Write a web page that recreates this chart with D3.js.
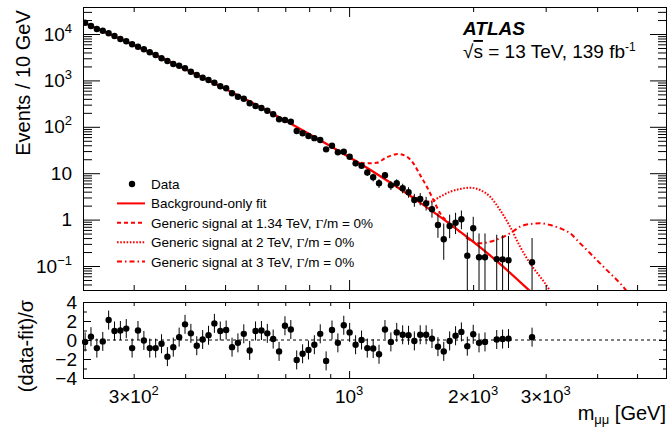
<!DOCTYPE html>
<html>
<head>
<meta charset="utf-8">
<script src="https://cdn.jsdelivr.net/npm/d3@7"></script>
<style>
  body { margin: 0; background: #fff; }
  svg text { font-family: "Liberation Sans", Arial, Helvetica, sans-serif; fill: #000; }
</style>
</head>
<body>
<svg id="chart" width="669" height="429"></svg>
<script>
// bin centres in GeV (empty bins left out)
const binMass = [228.7, 236.3, 244.2, 252.4, 260.8, 269.5, 278.5, 287.8, 297.4, 307.3,
  317.6, 328.2, 339.2, 350.5, 362.2, 374.3, 386.8, 399.7, 413.0, 426.8,
  441.1, 455.8, 471.0, 486.8, 503.0, 519.8, 537.2, 555.1, 573.7, 592.8,
  612.6, 633.1, 654.2, 676.1, 698.7, 722.0, 746.1, 771.1, 796.8, 823.5,
  851.0, 879.4, 908.8, 939.1, 970.6, 1003, 1037, 1072, 1107, 1144,
  1182, 1222, 1263, 1305, 1349, 1394, 1440, 1488, 1538, 1589,
  1643, 1697, 1754, 1813, 1873, 1936, 2001, 2067, 2137, 2282,
  2358, 2437, 2780];
// events / 10 GeV
const dataVal = [17520, 14870, 12820, 11780, 10350, 9055, 7803, 6962, 5998, 5324,
  4681, 4033, 3527, 2994, 2619, 2256, 2074, 1823, 1540, 1307,
  1144, 1020, 892, 746, 676, 527, 445, 403, 321, 281,
  254, 222, 186, 145, 140, 129, 81.2, 72.4, 63.4, 57,
  52.0, 32.7, 39.2, 28.2, 29.1, 22.7, 16.3, 14.5, 10.4, 8.16,
  6.06, 9.01, 5.48, 6.06, 4.73, 3.88, 2.64, 2.78, 2.24, 1.67,
  0.765, 0.376, 0.727, 0.857, 1.02, 0.167, 0.649, 0.154, 0.154, 0.141,
  0.139, 0.133, 0.121];
const errLo = [0, 0, 0, 0, 0, 0, 0, 0, 0, 0,
  0, 0, 0, 0, 0, 0, 0, 0, 0, 0,
  0, 0, 0, 0, 0, 0, 0, 0, 0, 0,
  0, 0, 0, 0, 0, 0, 0, 0, 0, 0,
  0, 0, 0, 0, 0, 2.6, 2.2, 2.0, 1.7, 1.5,
  1.25, 1.5, 1.15, 1.19, 1.04, 0.92, 0.75, 0.75, 0.67, 0.57,
  0.36, 0.24, 0.33, 0.37, 0.4, 0.16, 0.3, 0.15, 0.15, 0.14,
  0.135, 0.13, 0.12];
const errHi = [0, 0, 0, 0, 0, 0, 0, 0, 0, 0,
  0, 0, 0, 0, 0, 0, 0, 0, 0, 0,
  0, 0, 0, 0, 0, 0, 0, 0, 0, 0,
  0, 0, 0, 0, 0, 0, 0, 0, 0, 0,
  0, 0, 0, 0, 0, 2.6, 2.3, 2.1, 1.8, 1.6,
  1.4, 1.6, 1.3, 1.35, 1.2, 1.1, 0.95, 0.95, 0.85, 0.75,
  0.6, 0.45, 0.55, 0.55, 0.55, 0.36, 0.5, 0.35, 0.35, 0.33,
  0.32, 0.31, 0.28];
// (data-fit)/sigma
const pullVal = [-0.2, 0.35, -0.85, -0.15, 2.1, 0.95, 1.0, 1.2, -0.85, 1.0,
  -0.05, -0.85, -0.85, -0.4, -1.75, -0.75, 0.3, 1.65, 0.7, -0.6,
  0.05, 0.5, 1.75, 0.95, 1.05, -0.75, -0.3, 0.65, -1.1, 0.95,
  1.0, 0.7, 0.1, -1.2, 1.5, 1.1, -2.1, -1.45, -1.05, -0.5,
  0.65, -2.2, 1.05, -0.3, 1.55, 0.8, -0.5, 0.0, -0.85, -0.9,
  -1.5, 1.1, -0.2, 0.8, 0.55, 0.5, -0.1, 0.55, 0.55, 0.15,
  -0.7, -1.2, -0.1, 0.45, 0.85, -0.65, 0.6, -0.3, -0.2, 0.05,
  0.1, 0.15, 0.3];

// background-only fit
const fitMass = [226.1, 281.8, 354.8, 446.7, 562.3, 707.9, 891.3, 1122, 1413, 1778, 2239, 2818];
const fitVal = [17870, 7480, 2911, 1086, 385.5, 129.1, 40.4, 12.0, 3.16, 0.741, 0.148, 0.0234];

// signal + background curves
const sig134Mass = [899.4, 977.9, 1044, 1104, 1167, 1234, 1317, 1380, 1432, 1487, 1544, 1602, 1663, 1727, 1791, 1859];
const sig134Val = [38.6, 24.8, 17.8, 16.35, 16.8, 22.0, 25.9, 22.7, 16.35, 9.15, 5.12, 2.65, 1.37, 0.93, 0.705, 0.542];
const sig2Mass = [1380, 1432, 1502, 1573, 1663, 1759, 1859, 1966, 2080, 2199, 2325, 2459, 2600, 2750, 2908, 3046, 3110];
const sig2Val = [3.61, 3.12, 2.65, 2.43, 3.12, 3.99, 4.57, 4.87, 4.34, 3.12, 1.61, 0.703, 0.261, 0.114, 0.0588, 0.033, 0.0237];
const sig3Mass = [1923, 2080, 2199, 2325, 2459, 2600, 2750, 2908, 3075, 3252, 3439, 3637, 3846, 4066, 4300, 4548, 4756];
const sig3Val = [0.411, 0.308, 0.334, 0.395, 0.507, 0.703, 0.804, 0.832, 0.765, 0.65, 0.507, 0.308, 0.188, 0.114, 0.0696, 0.0424, 0.0262];

const xMinorTicks = [300, 400, 500, 600, 700, 800, 900, 2000, 3000, 4000, 5000];
const xMajorTicks = [1000];
const xLabelVals = [300, 1000, 2000, 3000];
const xLabelBase = ["3×10", "10", "2×10", "3×10"];
const xLabelExp = ["2", "3", "3", "3"];
const yLabelVals = [0.1, 1, 10, 100, 1000, 10000];
const yLabelBase = ["10", "1", "10", "10", "10", "10"];
const yLabelExp = ["−1", "", "", "2", "3", "4"];
const pullMajor = [-4, -2, 0, 2, 4];
const pullMinor = [-3, -1, 1, 3];
const pullLabels = ["−4", "−2", "0", "2", "4"];

const legendNames = ["Data", "Background-only fit", "Generic signal at 1.34 TeV, ", "Generic signal at 2 TeV, ", "Generic signal at 3 TeV, "];
const legendKind = ["dot", "solid", "dash", "dotted", "dashdot"];

const dashes = { solid: null, dash: "4,3", dotted: "1.6,1.6", dashdot: "5,3,1.5,3" };

const svg = d3.select("#chart");
const L = 83, R = 667, T1 = 7, B1 = 290, T2 = 302, B2 = 378;

const x = d3.scaleLog().domain([226, 5910]).range([L, R]);
const yTop = d3.scaleLog().domain([0.0304, 38200]).range([B1, T1]);
const yPull = d3.scaleLinear().domain([-4, 4]).range([B2, T2]);

svg.append("defs").append("clipPath").attr("id", "clipTop")
  .append("rect").attr("x", L).attr("y", T1).attr("width", R - L).attr("height", B1 - T1);

function tickAxis(axisFn, scale, vals, size, tr) {
  svg.append("g").attr("transform", tr)
    .call(axisFn(scale).tickValues(vals).tickSizeInner(size).tickSizeOuter(0).tickFormat(""))
    .call(g => g.select(".domain").remove())
    .selectAll("line").attr("stroke", "#000").attr("stroke-width", 1);
}

// ----- top panel -----
const topPlot = svg.append("g").attr("clip-path", "url(#clipTop)");

const line = d3.line().x(d => x(d[0])).y(d => yTop(d[1])).curve(d3.curveMonotoneX);

const sigCurves = [
  [sig134Mass, sig134Val, "dash"],
  [sig2Mass, sig2Val, "dotted"],
  [sig3Mass, sig3Val, "dashdot"]
];
sigCurves.forEach(c => {
  topPlot.append("path")
    .datum(c[0].map((m, i) => [m, c[1][i]]))
    .attr("d", line)
    .attr("fill", "none")
    .attr("stroke", "#ff0000")
    .attr("stroke-width", 2)
    .attr("stroke-dasharray", dashes[c[2]]);
});

topPlot.append("path")
  .datum(fitMass.map((m, i) => [m, fitVal[i]]))
  .attr("d", line)
  .attr("fill", "none")
  .attr("stroke", "#ff0000")
  .attr("stroke-width", 2.3);

topPlot.selectAll(".ebar")
  .data(binMass)
  .enter().append("line")
  .attr("x1", d => x(d)).attr("x2", d => x(d))
  .attr("y1", (d, i) => yTop(Math.max(dataVal[i] - errLo[i], 0.001)))
  .attr("y2", (d, i) => yTop(dataVal[i] + errHi[i]))
  .attr("stroke", "#000").attr("stroke-width", 1);

topPlot.selectAll(".dot")
  .data(binMass)
  .enter().append("circle")
  .attr("cx", d => x(d))
  .attr("cy", (d, i) => yTop(dataVal[i]))
  .attr("r", 3.2)
  .attr("fill", "#000");

// frame + ticks
svg.append("rect").attr("x", L + 0.5).attr("y", T1 + 0.5).attr("width", R - L - 1).attr("height", B1 - T1)
  .attr("fill", "none").attr("stroke", "#000").attr("stroke-width", 1);

const yTicksAll = yTop.ticks();
const yMaj = yTicksAll.filter(v => Math.abs(Math.log10(v) - Math.round(Math.log10(v))) < 1e-6);
const yMin = yTicksAll.filter(v => yMaj.indexOf(v) < 0);
tickAxis(d3.axisLeft, yTop, yMin, -9, `translate(${L},0)`);
tickAxis(d3.axisLeft, yTop, yMaj, -17, `translate(${L},0)`);
tickAxis(d3.axisRight, yTop, yMin, -9, `translate(${R},0)`);
tickAxis(d3.axisRight, yTop, yMaj, -17, `translate(${R},0)`);
tickAxis(d3.axisBottom, x, xMinorTicks, -5, `translate(0,${B1})`);
tickAxis(d3.axisBottom, x, xMajorTicks, -10, `translate(0,${B1})`);
tickAxis(d3.axisTop, x, xMinorTicks, -5, `translate(0,${T1})`);
tickAxis(d3.axisTop, x, xMajorTicks, -10, `translate(0,${T1})`);

// y labels top panel
yLabelVals.forEach((v, i) => {
  const t = svg.append("text")
    .attr("x", 72).attr("y", yTop(v) + 6.5)
    .attr("text-anchor", "end")
    .style("font-size", "19px")
    .text(yLabelBase[i]);
  if (yLabelExp[i]) {
    t.append("tspan").attr("dy", -8).style("font-size", "13px").text(yLabelExp[i]);
  }
});

svg.append("text")
  .attr("transform", "translate(30,83) rotate(-90)")
  .attr("text-anchor", "middle")
  .style("font-size", "20px")
  .text("Events / 10 GeV");

// ATLAS label
svg.append("text").attr("x", 463).attr("y", 35)
  .style("font-size", "19px").style("font-weight", "bold").style("font-style", "italic")
  .text("ATLAS");
const lumi = svg.append("text").attr("x", 463).attr("y", 58).style("font-size", "19px");
lumi.append("tspan").text("√");
lumi.append("tspan").style("text-decoration", "overline").text("s");
lumi.append("tspan").text(" = 13 TeV, 139 fb");
lumi.append("tspan").attr("dy", -7).style("font-size", "12px").text("-1");

// legend
const lg = svg.append("g");
legendNames.forEach((name, i) => {
  const yy = 184 + i * 19.4;
  if (legendKind[i] === "dot") {
    lg.append("circle").attr("cx", 132).attr("cy", yy).attr("r", 3.2).attr("fill", "#000");
  } else {
    lg.append("line").attr("x1", 117).attr("x2", 145).attr("y1", yy).attr("y2", yy)
      .attr("stroke", "#ff0000").attr("stroke-width", 2)
      .attr("stroke-dasharray", dashes[legendKind[i]]);
  }
  const t = lg.append("text").attr("x", 151).attr("y", yy + 5).style("font-size", "13.5px").text(name);
  if (i >= 2) {
    t.append("tspan").style("font-family", "'Liberation Serif', 'DejaVu Serif', serif").text("Γ");
    t.append("tspan").text("/m = 0%");
  }
});

// ----- bottom panel -----
svg.append("line")
  .attr("x1", L).attr("x2", R).attr("y1", yPull(0)).attr("y2", yPull(0))
  .attr("stroke", "#000").attr("stroke-width", 1).attr("stroke-dasharray", "3,3");

svg.selectAll(".pbar")
  .data(binMass)
  .enter().append("line")
  .attr("x1", d => x(d)).attr("x2", d => x(d))
  .attr("y1", (d, i) => yPull(pullVal[i] - 1))
  .attr("y2", (d, i) => yPull(pullVal[i] + 1))
  .attr("stroke", "#000").attr("stroke-width", 1);

svg.selectAll(".pdot")
  .data(binMass)
  .enter().append("circle")
  .attr("cx", d => x(d))
  .attr("cy", (d, i) => yPull(pullVal[i]))
  .attr("r", 3.2)
  .attr("fill", "#000");

svg.append("rect").attr("x", L + 0.5).attr("y", T2 + 0.5).attr("width", R - L - 1).attr("height", B2 - T2)
  .attr("fill", "none").attr("stroke", "#000").attr("stroke-width", 1);

tickAxis(d3.axisLeft, yPull, pullMajor, -8, `translate(${L},0)`);
tickAxis(d3.axisLeft, yPull, pullMinor, -4, `translate(${L},0)`);
tickAxis(d3.axisRight, yPull, pullMajor, -8, `translate(${R},0)`);
tickAxis(d3.axisRight, yPull, pullMinor, -4, `translate(${R},0)`);
tickAxis(d3.axisBottom, x, xMinorTicks, -4, `translate(0,${B2})`);
tickAxis(d3.axisBottom, x, xMajorTicks, -7, `translate(0,${B2})`);
tickAxis(d3.axisTop, x, xMinorTicks, -4, `translate(0,${T2})`);
tickAxis(d3.axisTop, x, xMajorTicks, -7, `translate(0,${T2})`);

pullMajor.forEach((v, i) => {
  svg.append("text")
    .attr("x", 77).attr("y", yPull(v) + 6.5)
    .attr("text-anchor", "end")
    .style("font-size", "19px")
    .text(pullLabels[i]);
});

svg.append("text")
  .attr("transform", "translate(33,346) rotate(-90)")
  .attr("text-anchor", "middle")
  .style("font-size", "20px")
  .text("(data-fit)/σ");

// x labels
xLabelVals.forEach((v, i) => {
  const t = svg.append("text")
    .attr("x", x(v)).attr("y", 403)
    .attr("text-anchor", "middle")
    .style("font-size", "19px")
    .text(xLabelBase[i]);
  t.append("tspan").attr("dy", -8).style("font-size", "13px").text(xLabelExp[i]);
});

const xt = svg.append("text").attr("x", 666).attr("y", 420).attr("text-anchor", "end").style("font-size", "20px");
xt.append("tspan").text("m");
xt.append("tspan").attr("dy", 4).style("font-size", "13px").text("μμ");
xt.append("tspan").attr("dy", -4).text(" [GeV]");
</script>
</body>
</html>
